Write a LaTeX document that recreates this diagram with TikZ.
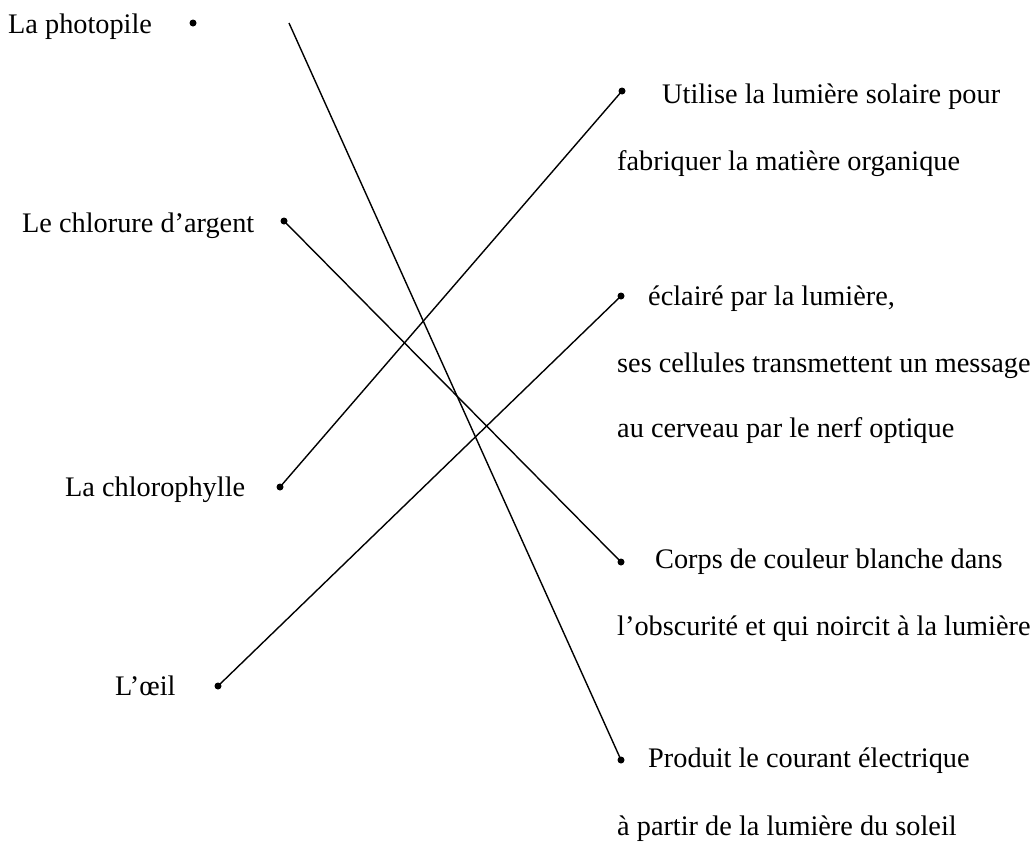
\documentclass[tikz,border=0pt]{standalone}
\usepackage{fontspec}
\setmainfont{Liberation Serif}
\begin{document}
\begin{tikzpicture}[x=1pt,y=-1pt,
  lbl/.style={anchor=base west,inner sep=0pt,font=\fontsize{28.3}{34}\selectfont},
  dotnode/.style={circle,fill=black,inner sep=0pt,minimum size=7pt},
  link/.style={line width=1.4pt,black}]
\useasboundingbox (0,0) rectangle (1035,841);
% left items
\node[lbl] (t1) at (8,33) {La photopile};
\node[dotnode] (d1) at (193,23) {};
\coordinate (s1) at (289,23);
\node[lbl] (t2) at (22,232) {Le chlorure d’argent};
\node[dotnode] (d2) at (284,221) {};
\node[lbl] (t3) at (65,496) {La chlorophylle};
\node[dotnode] (d3) at (280,487) {};
\node[lbl] (t4) at (115,695) {L’œil};
\node[dotnode] (d4) at (218,686) {};
% right items
\node[dotnode] (r1) at (622,91) {};
\node[lbl] (u1) at (662,103) {Utilise la lumière solaire pour};
\node[lbl] (u2) at (617,170) {fabriquer la matière organique};
\node[dotnode] (r2) at (621,296) {};
\node[lbl] (e1) at (648,305) {éclairé par la lumière,};
\node[lbl] (e2) at (617,372) {ses cellules transmettent un message};
\node[lbl] (e3) at (617,437) {au cerveau par le nerf optique};
\node[dotnode] (r3) at (621,562) {};
\node[lbl] (c1) at (655,568) {Corps de couleur blanche dans};
\node[lbl] (c2) at (617,635) {l’obscurité et qui noircit à la lumière};
\node[dotnode] (r4) at (621,760) {};
\node[lbl] (p1) at (648,767) {Produit le courant électrique};
\node[lbl] (p2) at (617,835) {à partir de la lumière du soleil};
% connectors
\draw[link] (s1) -- (r4.center);
\draw[link] (d2.center) -- (r3.center);
\draw[link] (d3.center) -- (r1.center);
\draw[link] (d4.center) -- (r2.center);
\end{tikzpicture}
\end{document}
